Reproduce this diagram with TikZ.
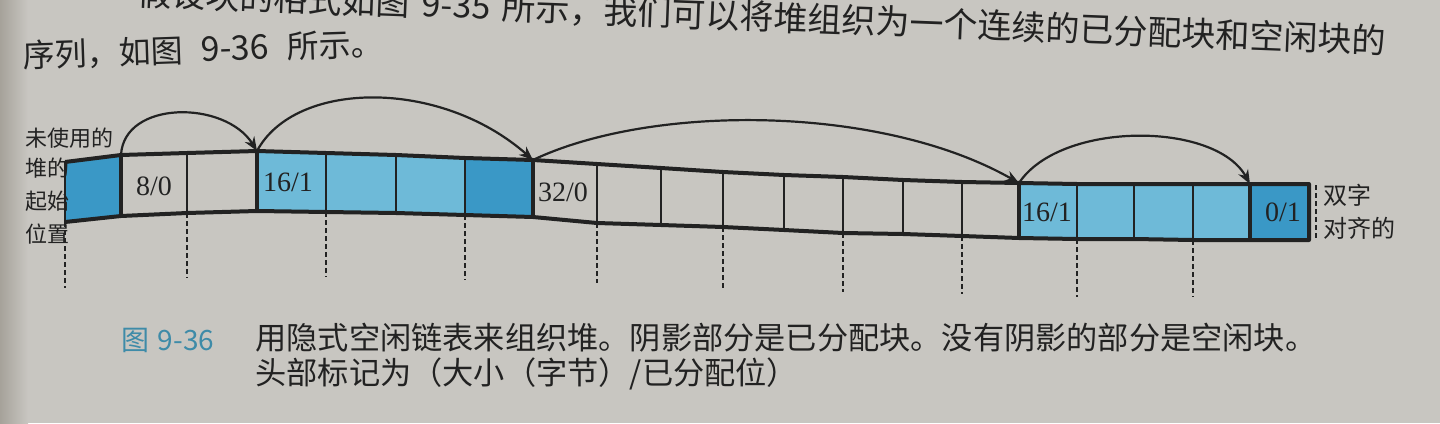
\documentclass[tikz,border=0pt]{standalone}
\usepackage{fontspec}
\setmainfont{Liberation Serif}
\newfontfamily\cjk{Noto Sans CJK SC}
\usetikzlibrary{arrows.meta}
\definecolor{paper}{HTML}{C8C6C1}
\definecolor{paperdark}{HTML}{A6A29A}
\definecolor{ink}{HTML}{222222}
\definecolor{blueD}{HTML}{3A98C6}
\definecolor{blueL}{HTML}{6EBAD8}
\definecolor{figblue}{HTML}{3E8BA8}
\begin{document}
\begin{tikzpicture}[x=0.5pt,y=-0.5pt,
  outline/.style={draw=ink,line width=2pt,line join=round},
  divthin/.style={draw=ink,line width=1pt},
  divmid/.style={draw=ink,line width=1.4pt},
  divthick/.style={draw=ink,line width=1.8pt},
  guide/.style={draw=ink,line width=1pt,dash pattern=on 2.5pt off 1.5pt},
  link/.style={draw=ink,line width=1.1pt,-{Stealth[length=7pt,width=5.5pt]}},
  hdr/.style={font=\fontsize{14}{16}\selectfont,inner sep=0pt,text=ink},
  sidel/.style={font=\cjk\fontsize{11}{13}\selectfont,inner sep=0pt,anchor=west,text=ink},
  sider/.style={font=\cjk\fontsize{12}{14}\selectfont,inner sep=0pt,anchor=west,text=ink},
  capt/.style={font=\cjk\fontsize{15.6}{18}\selectfont,inner sep=0pt,anchor=west,text=ink},
  bodytext/.style={inner sep=0pt,text=ink}
]
\useasboundingbox (0,0) rectangle (1440,423);
\fill[paper] (0,0) rectangle (1440,423);
\shade[left color=paperdark,right color=paper] (0,0) rectangle (28,423);

% body text above the figure
\node[bodytext,font=\cjk\fontsize{17}{20}\selectfont,anchor=east,rotate=-2.2] (p1) at (1386,41)
  {假设块的格式如图\hspace{0.35em}9-35\hspace{0.35em}所示，我们可以将堆组织为一个连续的已分配块和空闲块的};
\node[bodytext,font=\cjk\fontsize{16}{19}\selectfont,anchor=west,rotate=2] (p2) at (23,56)
  {序列，如图\hspace{0.55em}{\fontsize{17}{19}\selectfont 9-36}\hspace{0.55em}所示。};

% band coordinates
\foreach \i/\x/\t/\b in {0/65/162/222, 1/121/155/216, 2/187/153/213, 3/257/151/211,
  4/326/153/212, 5/396/155/213, 6/465/158/215, 7/533/160/217, 8/597/164/223,
  9/661/168/225, 10/723/172/227, 11/784/175/230, 12/843/177/233, 13/903/180/234,
  14/962/182/236, 15/1019/183/238, 16/1077/184/239, 17/1134/184/239,
  18/1193/184/240, 19/1250/184/240, 20/1309/184/240}
  {\coordinate (t\i) at (\x,\t); \coordinate (b\i) at (\x,\b);}

% shaded cells
\foreach \i/\j/\c in {0/1/blueD, 3/4/blueL, 4/5/blueL, 5/6/blueL, 6/7/blueD,
  15/16/blueL, 16/17/blueL, 17/18/blueL, 18/19/blueL, 19/20/blueD}
  \fill[fill=\c] (t\i) -- (t\j) -- (b\j) -- (b\i) -- cycle;

% dividers
\foreach \i in {2,8,9,10,11,12,13,14} \draw[divthin] (t\i) -- (b\i);
\foreach \i in {4,5,6,16,17,18} \draw[divmid] (t\i) -- (b\i);
\foreach \i in {1,3,7,15,19} \draw[divthick] (t\i) -- (b\i);
\draw[divmid] (t0) -- (b0);
\draw[outline] (t0) \foreach \i in {1,...,20}{ -- (t\i)} -- (b20)
  \foreach \i in {19,...,0}{ -- (b\i)};

% dashed double-word guides
\foreach \i/\x/\e in {0/65/288, 2/187/278, 4/326/277, 6/465/280, 8/597/283,
  10/723/288, 12/843/292, 14/962/294, 16/1077/297, 18/1193/297}
  {\coordinate (g\i) at (\x,\e); \draw[guide] (b\i) -- (g\i);}
\coordinate (ra) at (1316,185);
\coordinate (rb) at (1316,241);
\draw[guide] (ra) -- (rb);

% implicit links
\draw[link] (t1) .. controls (124,100) and (225,100) .. (t3);
\draw[link] (t3) .. controls (295,80) and (440,78) .. (t7);
\draw[link] (t7) .. controls (650,104) and (880,104) .. (t15);
\draw[link] (t15) .. controls (1060,121) and (1215,121) .. (t19);

% headers
\node[hdr] (h1) at (154,186) {8/0};
\node[hdr] (h2) at (288,182) {16/1};
\node[hdr] (h3) at (563,192) {32/0};
\node[hdr] (h4) at (1047,212) {16/1};
\node[hdr] (h5) at (1283,212) {0/1};

% side labels
\node[sidel] (u1) at (25,138) {未使用的};
\node[sidel] (u2) at (25,168) {堆的};
\node[sidel] (u3) at (25,201) {起始};
\node[sidel] (u4) at (25,234) {位置};
\node[sider] (r1) at (1323,195) {双字};
\node[sider] (r2) at (1323,228) {对齐的};

% caption
\node[capt,font=\cjk\fontsize{14}{16}\selectfont,text=figblue] (fig) at (121,340) {图\hspace{0.3em}9-36};
\node[capt] (c1) at (255,338) {用隐式空闲链表来组织堆。阴影部分是已分配块。没有阴影的部分是空闲块。};
\node[capt] (c2) at (255,374) {头部标记为（大小（字节）/已分配位）};
\end{tikzpicture}
\end{document}
